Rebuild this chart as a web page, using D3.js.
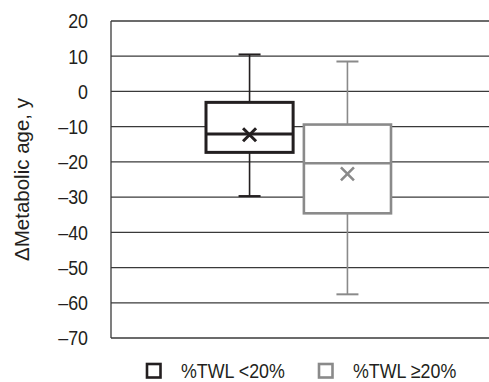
<!DOCTYPE html>
<html>
<head>
<meta charset="utf-8">
<script src="https://cdn.jsdelivr.net/npm/d3@7"></script>
<style>
  body { margin: 0; background: #fff; }
  svg { display: block; }
</style>
</head>
<body>
<div id="chart"></div>
<script>
// box plot values
const series = ['%TWL <20%', '%TWL \u226520%'];
const colors = ['#231f20', '#8a8a8a'];
const whiskerHigh = [10.5, 8.5];
const q3 = [-3.1, -9.4];
const median = [-12.1, -20.4];
const q1 = [-17.3, -34.6];
const whiskerLow = [-29.7, -57.6];
const mean = [-12.3, -23.4];
const yTicks = [20, 10, 0, -10, -20, -30, -40, -50, -60, -70];

const width = 489;
const height = 382;
const margin = { top: 21, right: 0, bottom: 44, left: 111 };
const font = '"Liberation Sans", Arial, sans-serif';
const squeeze = 0.85; // reference uses a condensed face

const svg = d3.select('#chart')
  .append('svg')
  .attr('width', width)
  .attr('height', height);

const y = d3.scaleLinear()
  .domain([-70, 20])
  .range([height - margin.bottom, margin.top]);

const x = d3.scaleBand()
  .domain(series)
  .range([206, 391])
  .paddingInner(0.11);

// grid lines
svg.append('g')
  .selectAll('line')
  .data(yTicks)
  .join('line')
  .attr('x1', margin.left)
  .attr('x2', width)
  .attr('y1', d => y(d))
  .attr('y2', d => y(d))
  .attr('stroke', '#3a3a3a')
  .attr('stroke-width', 1.3);

// left axis line
svg.append('line')
  .attr('x1', margin.left)
  .attr('x2', margin.left)
  .attr('y1', y(20))
  .attr('y2', y(-70))
  .attr('stroke', '#3a3a3a')
  .attr('stroke-width', 1.3);

// tick labels
svg.append('g')
  .selectAll('text')
  .data(yTicks)
  .join('text')
  .attr('transform', d => `translate(88,${y(d)}) scale(${squeeze},1)`)
  .attr('dy', '0.35em')
  .attr('text-anchor', 'end')
  .attr('font-family', font)
  .attr('font-size', '21px')
  .attr('fill', '#231f20')
  .text(d => d < 0 ? '\u2013' + Math.abs(d) : d);

// axis title
svg.append('text')
  .attr('transform', `translate(22,${(y(20) + y(-70)) / 2}) rotate(-90)`)
  .attr('text-anchor', 'middle')
  .attr('dy', '0.35em')
  .attr('font-family', font)
  .attr('font-size', '20.5px')
  .attr('fill', '#231f20')
  .text('\u0394Metabolic age, y');

// boxes
series.forEach((s, i) => {
  const g = svg.append('g');
  const cx = x(s) + x.bandwidth() / 2;
  const c = colors[i];
  const capW = 11;

  g.append('line')
    .attr('x1', cx).attr('x2', cx)
    .attr('y1', y(whiskerHigh[i])).attr('y2', y(whiskerLow[i]))
    .attr('stroke', c).attr('stroke-width', 1.6);

  [whiskerHigh[i], whiskerLow[i]].forEach(v => {
    g.append('line')
      .attr('x1', cx - capW).attr('x2', cx + capW)
      .attr('y1', y(v)).attr('y2', y(v))
      .attr('stroke', c).attr('stroke-width', 2);
  });

  g.append('rect')
    .attr('x', x(s))
    .attr('y', y(q3[i]))
    .attr('width', x.bandwidth())
    .attr('height', y(q1[i]) - y(q3[i]))
    .attr('fill', '#fff')
    .attr('stroke', c)
    .attr('stroke-width', i === 0 ? 3 : 2.6);

  g.append('line')
    .attr('x1', x(s)).attr('x2', x(s) + x.bandwidth())
    .attr('y1', y(median[i])).attr('y2', y(median[i]))
    .attr('stroke', c)
    .attr('stroke-width', i === 0 ? 3 : 2.6);

  const m = 6.5;
  const my = y(mean[i]);
  g.append('path')
    .attr('d', `M${cx - m},${my - m}L${cx + m},${my + m}M${cx - m},${my + m}L${cx + m},${my - m}`)
    .attr('stroke', c)
    .attr('stroke-width', i === 0 ? 3 : 2.6)
    .attr('fill', 'none');
});

// legend
const legendX = [147, 319];
const legend = svg.append('g')
  .selectAll('g')
  .data(series)
  .join('g')
  .attr('transform', (d, i) => `translate(${legendX[i]},364)`);

legend.append('rect')
  .attr('width', 13.5)
  .attr('height', 13.5)
  .attr('fill', '#fff')
  .attr('stroke', (d, i) => colors[i])
  .attr('stroke-width', 2.6);

legend.append('text')
  .attr('transform', `translate(34,7) scale(${squeeze},1)`)
  .attr('dy', '0.35em')
  .attr('font-family', font)
  .attr('font-size', '21px')
  .attr('fill', '#231f20')
  .text(d => d);
</script>
</body>
</html>
